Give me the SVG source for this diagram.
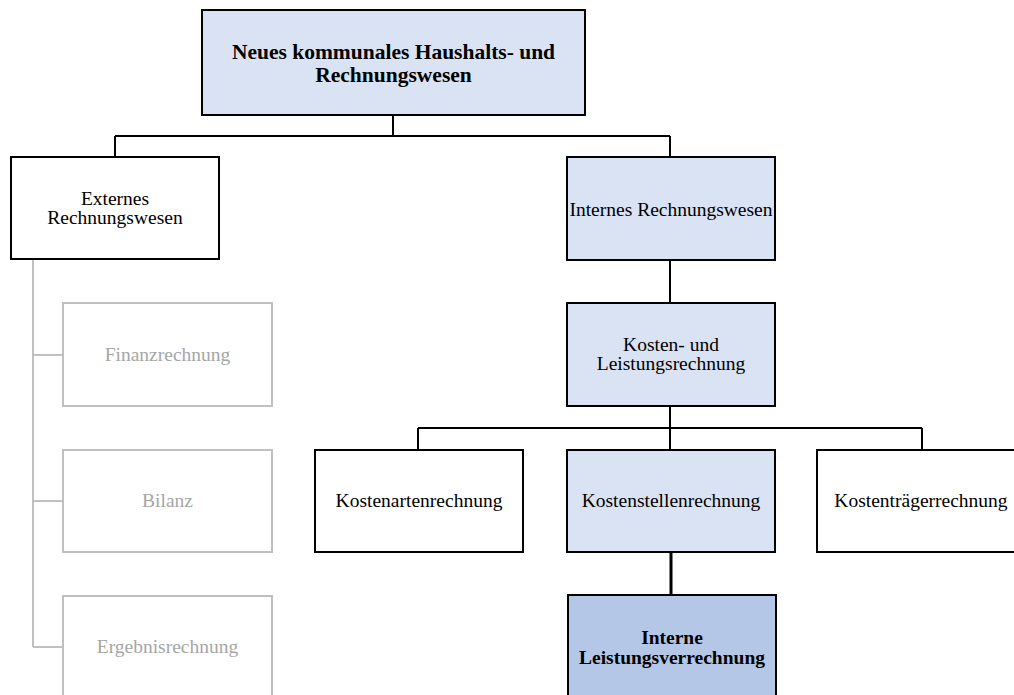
<svg xmlns="http://www.w3.org/2000/svg" width="1014" height="695" viewBox="0 0 1014 695">
  <style>
    .box { fill: #ffffff; stroke: #000000; stroke-width: 2; }
    .light { fill: #dae3f3; stroke: #000000; stroke-width: 2; }
    .dark { fill: #b4c7e7; stroke: #000000; stroke-width: 2; }
    .muted { fill: #ffffff; stroke: #c0c0c0; stroke-width: 2; }
    .lbl { font-family: "Liberation Serif", "Times New Roman", serif; font-size: 19.5px; fill: #000000; text-anchor: middle; }
    .bold { font-weight: bold; }
    .title { font-size: 21.5px; }
    .grey { fill: #a6a6a6; }
    .link { fill: none; stroke: #000000; stroke-width: 2; }
    .link-grey { fill: none; stroke: #c0c0c0; stroke-width: 2; }
    .link-thick { fill: none; stroke: #000000; stroke-width: 3; }
  </style>
  <rect width="1014" height="695" fill="#ffffff"/>

  <g id="connectors">
    <path class="link" d="M393 115 V136 M115 136 H670 M115 136 V157 M670 136 V157"/>
    <path class="link" d="M670 260 V303"/>
    <path class="link" d="M670 406 V450 M418 428 H922 M418 428 V450 M922 428 V450"/>
    <path class="link-thick" d="M671 552 V595"/>
    <path class="link-grey" d="M33 259 V647 M33 355 H63 M33 501 H63 M33 647 H63"/>
  </g>

  <g id="node-nkhr">
    <rect class="light" x="202" y="10" width="383" height="105"/>
    <text class="lbl bold title" x="393.5" y="59">Neues kommunales Haushalts- und</text>
    <text class="lbl bold title" x="393.5" y="82">Rechnungswesen</text>
  </g>

  <g id="node-extern">
    <rect class="box" x="11" y="157" width="208" height="102"/>
    <text class="lbl" x="115" y="205">Externes</text>
    <text class="lbl" x="115" y="224">Rechnungswesen</text>
  </g>

  <g id="node-intern">
    <rect class="light" x="567" y="157" width="208" height="103"/>
    <text class="lbl" x="671" y="216">Internes Rechnungswesen</text>
  </g>

  <g id="node-finanz">
    <rect class="muted" x="63" y="303" width="209" height="103"/>
    <text class="lbl grey" x="167.5" y="361">Finanzrechnung</text>
  </g>

  <g id="node-bilanz">
    <rect class="muted" x="63" y="450" width="209" height="102"/>
    <text class="lbl grey" x="167.5" y="507">Bilanz</text>
  </g>

  <g id="node-ergebnis">
    <rect class="muted" x="63" y="596" width="209" height="110"/>
    <text class="lbl grey" x="167.5" y="653">Ergebnisrechnung</text>
  </g>

  <g id="node-klr">
    <rect class="light" x="567" y="303" width="208" height="103"/>
    <text class="lbl" x="671" y="351">Kosten- und</text>
    <text class="lbl" x="671" y="370">Leistungsrechnung</text>
  </g>

  <g id="node-kostenarten">
    <rect class="box" x="315" y="450" width="208" height="102"/>
    <text class="lbl" x="419" y="507">Kostenartenrechnung</text>
  </g>

  <g id="node-kostenstellen">
    <rect class="light" x="567" y="450" width="208" height="102"/>
    <text class="lbl" x="671" y="507">Kostenstellenrechnung</text>
  </g>

  <g id="node-kostentraeger">
    <rect class="box" x="817" y="450" width="208" height="102"/>
    <text class="lbl" x="921" y="507">Kostenträgerrechnung</text>
  </g>

  <g id="node-ilv">
    <rect class="dark" x="568" y="595" width="208" height="110"/>
    <text class="lbl bold" x="672" y="644">Interne</text>
    <text class="lbl bold" x="672" y="664">Leistungsverrechnung</text>
  </g>
</svg>
